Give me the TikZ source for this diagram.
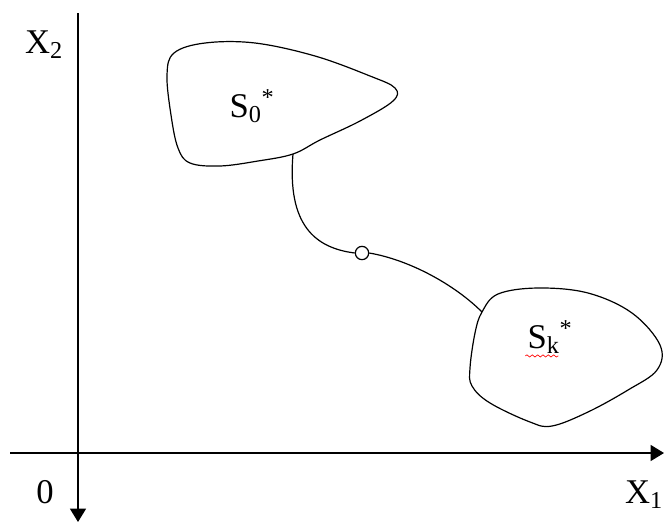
\documentclass[tikz,border=0pt]{standalone}
\usepackage{fontspec}
\setmainfont{Liberation Serif}
\usetikzlibrary{arrows.meta,calc,decorations.pathmorphing}

\tikzset{
  axis/.style={line width=0.9pt,-{Triangle[width=12pt,length=10pt]}},
  blob/.style={line width=0.9pt},
  lbl/.style={font=\fontsize{26}{30}\selectfont,inner sep=0pt}
}

\begin{document}
\begin{tikzpicture}[x=0.75pt,y=-0.75pt]
\useasboundingbox (0,0) rectangle (665,526);

%axes
\coordinate (ytop) at (78,13);
\coordinate (ybot) at (78,522);
\coordinate (xleft) at (10,453);
\coordinate (xright) at (664,453);
\draw [axis] (ytop) to (ybot);
\draw [axis] (xleft) to (xright);

\node[lbl] (x2) at (44,45) {X\textsubscript{2}};
\node[lbl] (zero) at (45,492) {0};
\node[lbl] (x1) at (644,495) {X\textsubscript{1}};

%sets
\draw [blob] plot [smooth cycle, tension=0.6] coordinates {
  (174,53) (205,43) (255,43) (315,56) (370,76) (395,88)
  (393,101) (360,121) (320,140) (293,154) (258,161) (220,166)
  (190,163) (178,148) (171,115) (167,75)};
\node[lbl] (s0) at (252,106) {S\textsubscript{0}\textsuperscript{*}};

\draw [blob] plot [smooth cycle, tension=0.6] coordinates {
  (482,312) (498,294) (538,288) (588,293) (632,313) (660,345)
  (657,370) (628,390) (588,412) (552,426) (530,422) (490,403)
  (472,386) (470,368) (475,333)};
\node[lbl] (sk) at (550,337) {S\textsubscript{k}\textsuperscript{*}};
\draw [red,line width=0.5pt,decorate,decoration={snake,segment length=4pt,amplitude=0.8pt}]
  ($(sk.south west)+(-2,2)$) to ($(sk.south west)+(31,2)$);

%trajectory
\coordinate (start) at (293,154);
\coordinate (end) at (482,312);
\node[draw,circle,line width=0.9pt,minimum size=10pt,inner sep=0pt,fill=white] (mid) at (362,253) {};
\draw [blob] (start) .. controls (287,225) and (315,248) .. (mid.west);
\draw [blob] (mid.east) .. controls (410,260) and (455,285) .. (end);

\end{tikzpicture}
\end{document}
